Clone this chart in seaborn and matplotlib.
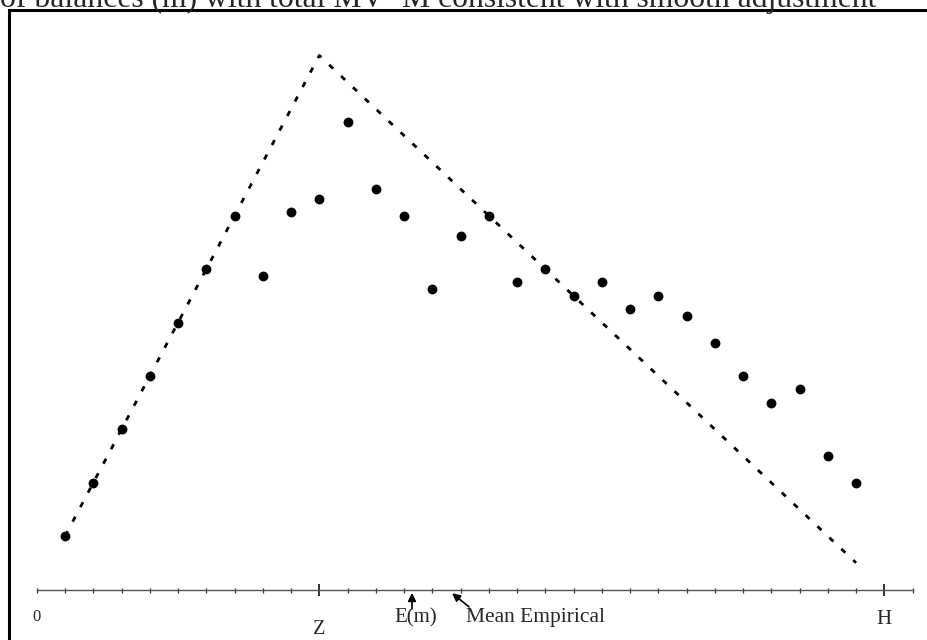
import matplotlib
matplotlib.use('Agg')
import matplotlib.pyplot as plt
import seaborn as sns
from matplotlib.ticker import FixedLocator

# balances in units of the axis ticks, Z = 10, H = 30
dot_x = list(range(1, 30))
dot_y = [4, 8, 12, 16, 20, 24, 28, 23.5, 28.25, 29.25, 35, 30, 28, 22.5, 26.5,
         28, 23, 24, 22, 23, 21, 22, 20.5, 18.5, 16, 14, 15, 10, 8]

# smooth-adjustment profile (dotted tent)
tent_x = [1, 10, 29]
tent_y = [4, 40, 2]

axis_ticks = list(range(0, 32))
z_pos = 10
h_pos = 30
em_pos = 13.28
mean_emp_pos = 14.7

title = "of balances (m) with total MV=M consistent with smooth adjustment"

sns.set_style('white')
plt.rcParams['font.family'] = ['Liberation Serif', 'DejaVu Serif']

fig = plt.figure(figsize=(9.28, 6.4), dpi=100)
ax = fig.add_axes([9.5 / 928, 1 - 650 / 640, (940 - 9.5) / 928, (650 - 10) / 640])
ax.set_xlim(-0.966, 31.97)
ax.set_ylim(-4.53, 43.41)

sns.lineplot(x=tent_x, y=tent_y, sort=False, estimator=None, color='black',
             linewidth=2.0, linestyle=(0, (2.0, 3.9)), ax=ax)
sns.scatterplot(x=dot_x, y=dot_y, color='black', s=50, linewidth=0, ax=ax)

# frame: only left and top edges fall on the canvas
ax.spines['right'].set_visible(False)
for side in ['left', 'top']:
    ax.spines[side].set_linewidth(2.2)
    ax.spines[side].set_color('black')

# balance axis drawn at y = 0
ax.spines['bottom'].set_position(('data', 0))
ax.spines['bottom'].set_bounds(0, 31)
ax.spines['bottom'].set_color('#555555')
ax.spines['bottom'].set_linewidth(1.0)
ax.xaxis.set_major_locator(FixedLocator([z_pos, h_pos]))
ax.xaxis.set_minor_locator(FixedLocator(axis_ticks))
ax.tick_params(axis='x', which='minor', direction='inout', length=3.6,
               width=0.9, color='#333333', bottom=True)
ax.tick_params(axis='x', which='major', direction='inout', length=8,
               width=1.3, color='#222222', bottom=True, labelbottom=False)
ax.set_yticks([])
ax.set_xlabel('')
ax.set_ylabel('')

ax.text(0, -2.35, '0', fontsize=12, ha='center', va='baseline')
ax.text(z_pos, -3.3, 'Z', fontsize=14.5, ha='center', va='baseline')
ax.text(h_pos, -2.6, 'H', fontsize=15, ha='center', va='baseline')

ax.annotate('', xy=(em_pos, -0.25), xytext=(em_pos, -1.45),
            arrowprops=dict(arrowstyle='-|>', color='black', lw=1.2,
                            mutation_scale=12, shrinkA=0, shrinkB=0))
ax.text(em_pos + 0.12, -2.45, 'E(m)', fontsize=15, ha='center', va='baseline')

ax.annotate('', xy=(mean_emp_pos, -0.28), xytext=(mean_emp_pos + 0.6, -1.3),
            arrowprops=dict(arrowstyle='-|>', color='black', lw=1.2,
                            mutation_scale=12, shrinkA=0, shrinkB=0))
ax.text(mean_emp_pos + 0.5, -2.45, 'Mean Empirical', fontsize=15.5,
        ha='left', va='baseline')

fig.text(0, 1 - 6.5 / 640, title, fontsize=22.8, ha='left', va='baseline')

fig.savefig('out.png', dpi=100)
plt.close(fig)
